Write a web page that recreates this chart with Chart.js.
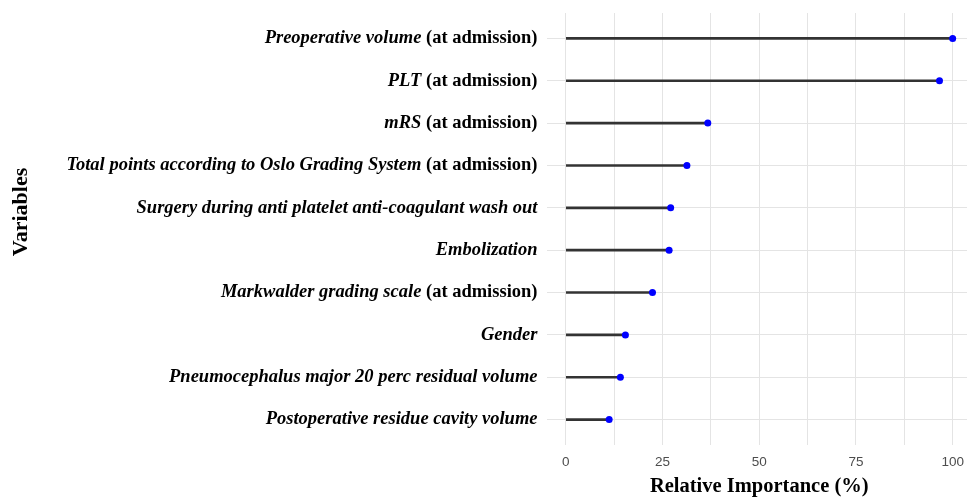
<!DOCTYPE html>
<html>
<head>
<meta charset="utf-8">
<script src="https://cdn.jsdelivr.net/npm/chart.js@4.4.1/dist/chart.umd.min.js"></script>
<style>
  html, body { margin: 0; padding: 0; background: #fff; overflow: hidden; }
  #wrap { width: 967px; height: 497px; overflow: hidden; }
</style>
</head>
<body>
<div id="wrap"><canvas id="myChart" width="976" height="497"></canvas></div>
<script>
/*=============== DATA ===============*/

// italic part of each variable name, top to bottom
const variables = [
  "Preoperative volume",
  "PLT",
  "mRS",
  "Total points according to Oslo Grading System",
  "Surgery during anti platelet anti-coagulant wash out",
  "Embolization",
  "Markwalder grading scale",
  "Gender",
  "Pneumocephalus major 20 perc residual volume",
  "Postoperative residue cavity volume",
];

// plain bold suffix after the name
const suffixes = [
  "(at admission)",
  "(at admission)",
  "(at admission)",
  "(at admission)",
  "",
  "",
  "(at admission)",
  "",
  "",
  "",
];

// relative importance (%)
const importance = [100, 96.6, 36.7, 31.3, 27.1, 26.7, 22.4, 15.4, 14.1, 11.2];

// x axis
const xTickLabels = [0, 25, 50, 75, 100];
const xGridValues = [0, 12.5, 25, 37.5, 50, 62.5, 75, 87.5, 100];

/*=============== CHART ===============*/

const rows = importance.map((v, i) => ({ x: v, y: i + 1 }));

// draws the mixed italic / bold labels and the y title
const labelPlugin = {
  id: "richLabels",
  afterDraw(chart) {
    const c = chart.ctx;
    const yScale = chart.scales.y;
    const right = chart.chartArea.left - 9;
    c.save();
    c.fillStyle = "#000";
    c.textBaseline = "middle";
    c.textAlign = "right";
    variables.forEach((name, i) => {
      const y = yScale.getPixelForValue(i + 1);
      let x = right;
      if (suffixes[i]) {
        c.font = "bold 18.5px 'Liberation Serif'";
        c.fillText(suffixes[i], x, y);
        x -= c.measureText(suffixes[i] + " ").width;
      }
      c.font = "italic bold 18.5px 'Liberation Serif'";
      c.fillText(name, x, y);
    });
    // y axis title
    c.translate(21, 212);
    c.rotate(-Math.PI / 2);
    c.textAlign = "center";
    c.font = "bold 22px 'Liberation Serif'";
    c.fillText("Variables", 0, 0);
    c.restore();
  },
};

const ctx = document.getElementById("myChart").getContext("2d");
const myChart = new Chart(ctx, {
  type: "bar",
  data: {
    datasets: [
      {
        type: "line",
        data: rows,
        showLine: false,
        pointRadius: 3.5,
        pointBackgroundColor: "#0000ff",
        pointBorderWidth: 0,
        order: 1,
      },
      {
        data: rows,
        backgroundColor: "#333333",
        barThickness: 2,
        order: 2,
      },
    ],
  },
  options: {
    responsive: false,
    animation: false,
    indexAxis: "y",
    layout: { padding: { left: 546.5, top: 13, right: 0, bottom: 0 } },
    plugins: { legend: { display: false }, tooltip: { enabled: false } },
    scales: {
      x: {
        type: "linear",
        min: -5,
        max: 105,
        afterBuildTicks: (s) => { s.ticks = xGridValues.map((v) => ({ value: v })); },
        afterFit: (s) => { s.height = 52; },
        ticks: {
          autoSkip: false,
          maxRotation: 0,
          padding: 9,
          color: "#4d4d4d",
          font: { family: "'Liberation Sans'", size: 13.5 },
          callback: (v) => (xTickLabels.includes(v) ? String(v) : ""),
        },
        grid: { color: "#e4e4e4", lineWidth: 1, drawTicks: false },
        border: { display: false },
        title: {
          display: true,
          text: "Relative Importance (%)",
          color: "#000",
          font: { family: "'Liberation Serif'", size: 20.5, weight: "bold" },
          padding: { top: 0, bottom: -2 },
        },
      },
      y: {
        type: "linear",
        reverse: true,
        offset: false,
        min: 0.4,
        max: 10.6,
        afterBuildTicks: (s) => { s.ticks = importance.map((v, i) => ({ value: i + 1 })); },
        ticks: { display: false },
        grid: { color: "#e4e4e4", lineWidth: 1, drawTicks: false, offset: false },
        border: { display: false },
      },
    },
  },
  plugins: [labelPlugin],
});
</script>
</body>
</html>
